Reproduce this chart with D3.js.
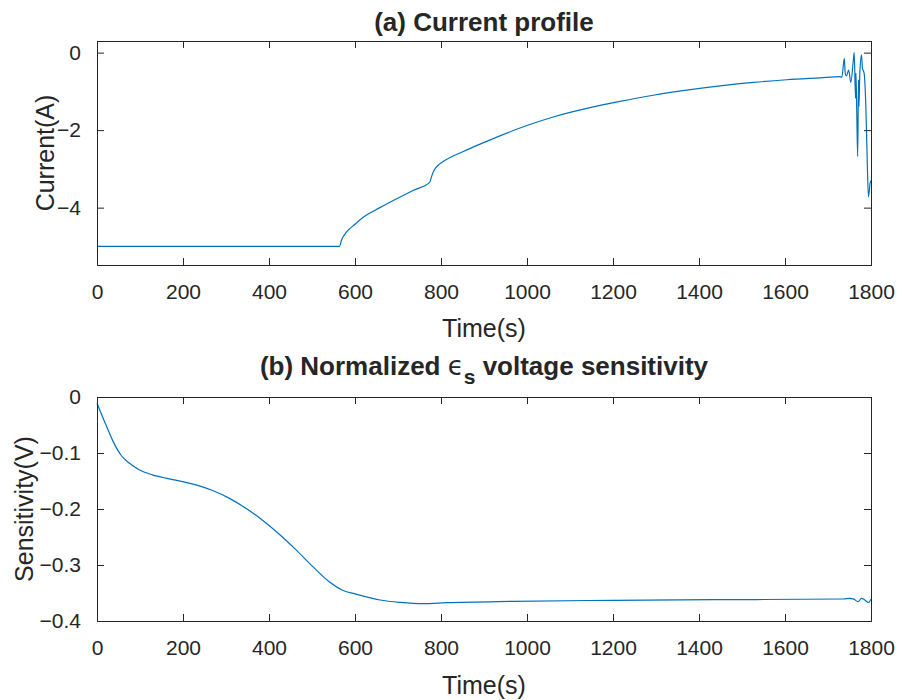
<!DOCTYPE html>
<html><head><meta charset="utf-8">
<script src="https://cdn.jsdelivr.net/npm/d3@7"></script>
<style>
body{margin:0;background:#fff;}
text{font-family:"Liberation Sans",Arial,Helvetica,sans-serif;fill:#262626;}
</style></head>
<body>
<svg id="chart" width="902" height="700"></svg>
<script>
// ---- data ----
const currentTime = [0,564,569,581,600,619,658,697,736,774,778,782,788,795,805,852,891,930,968,1000,1061,1139,1216,1294,1371,1449,1526,1604,1681,1728,1732,1738,1740,1743,1748,1753,1759,1761,1764,1765,1767,1769,1771,1772,1774,1778,1780,1784,1788,1791,1794,1798,1800];
const currentValue = [-5,-5,-4.83,-4.62,-4.43,-4.25,-4.00,-3.77,-3.55,-3.34,-3.2,-3.08,-2.97,-2.89,-2.81,-2.55,-2.36,-2.18,-2.01,-1.88,-1.66,-1.44,-1.26,-1.10,-0.97,-0.86,-0.77,-0.70,-0.65,-0.62,-0.64,-0.15,-0.53,-0.60,-0.45,-0.77,-0.19,0.0,-1.18,-0.53,-1.6,-2.68,-0.7,-1.39,-0.53,-0.06,-0.40,-0.53,-1.39,-2.68,-3.72,-3.37,-3.3];
const sensTime = [0,1.5,21,36,56,75,98,129,160,199,230,269,308,347,385,424,463,502,540,571,602,658,705,759,813,968,1201,1433,1736,1750,1760,1770,1778,1785,1794,1800];
const sensValue = [-0.011,-0.014,-0.05,-0.077,-0.104,-0.118,-0.130,-0.139,-0.145,-0.151,-0.157,-0.167,-0.181,-0.199,-0.220,-0.245,-0.273,-0.303,-0.330,-0.345,-0.352,-0.3625,-0.3667,-0.369,-0.3673,-0.3649,-0.363,-0.362,-0.3607,-0.3596,-0.361,-0.3655,-0.3596,-0.362,-0.367,-0.361];
const xTicks = [0,200,400,600,800,1000,1200,1400,1600,1800];
const currentTicks = [0,-2,-4];
const sensTicks = [0,-0.1,-0.2,-0.3,-0.4];

const svg = d3.select("#chart");
const lineColor = "#0072BD", axisColor = "#262626";
const L = 97, R = 871;
const minus = s => String(s).replace("-", "\u2212");

function panel(opts){
  const {top, bottom, ydomain, yticks, tfmt, t, v, ylabel, ylabelX, xlabelY} = opts;
  const x = d3.scaleLinear().domain([0,1800]).range([L,R]);
  const y = d3.scaleLinear().domain(ydomain).range([bottom,top]);
  const g = svg.append("g");
  const line = d3.line().x((d,i)=>x(t[i])).y(d=>y(d)).curve(d3.curveMonotoneX);
  g.append("path").datum(v).attr("d",line).attr("fill","none").attr("stroke",lineColor).attr("stroke-width",1.2);
  const tl = 7;
  const fmt = tfmt || (d=>minus(d));
  const xb = d3.axisBottom(x).tickValues(xTicks).tickSize(-tl).tickPadding(tl+12).tickFormat(d=>d);
  const xt = d3.axisTop(x).tickValues(xTicks).tickSize(-tl).tickFormat("");
  const yl = d3.axisLeft(y).tickValues(yticks).tickSize(-tl).tickPadding(tl+9).tickFormat(fmt);
  const yr = d3.axisRight(y).tickValues(yticks).tickSize(-tl).tickFormat("");
  g.append("g").attr("transform",`translate(0,${bottom})`).call(xb);
  g.append("g").attr("transform",`translate(0,${top})`).call(xt);
  g.append("g").attr("transform",`translate(${L},0)`).call(yl);
  g.append("g").attr("transform",`translate(${R},0)`).call(yr);
  g.selectAll(".domain").attr("stroke",axisColor).attr("stroke-width",1);
  g.selectAll(".tick line").attr("stroke",axisColor).attr("stroke-width",1);
  g.selectAll(".tick text").attr("font-size",21).attr("fill",axisColor).style("font-family",'"Liberation Sans",Arial,sans-serif');
  g.append("text").attr("x",(L+R)/2).attr("y",xlabelY).attr("text-anchor","middle").attr("font-size",25).text("Time(s)");
  g.append("text").attr("transform",`translate(${ylabelX},${(top+bottom)/2}) rotate(-90)`).attr("text-anchor","middle").attr("font-size",25).text(ylabel);
  return g;
}

panel({top:41,bottom:265,ydomain:[-5.48,0.3],yticks:currentTicks,t:currentTime,v:currentValue,ylabel:"Current(A)",ylabelX:54,xlabelY:337});
panel({top:397,bottom:621,ydomain:[-0.4,0],yticks:sensTicks,tfmt:d=>d===0?"0":minus(d.toFixed(1)),t:sensTime,v:sensValue,ylabel:"Sensitivity(V)",ylabelX:33,xlabelY:694});

// titles
svg.append("text").attr("x",484).attr("y",31).attr("text-anchor","middle").attr("font-size",26).attr("font-weight","bold").text("(a) Current profile");
const tb = svg.append("text").attr("x",484).attr("y",375).attr("text-anchor","middle").attr("font-size",26).attr("font-weight","bold");
tb.append("tspan").text("(b) Normalized ");
tb.append("tspan").attr("font-weight","normal").style("font-family",'"DejaVu Sans",sans-serif').text("ϵ");
tb.append("tspan").attr("dy",9).attr("font-size",21).text("s");
tb.append("tspan").attr("dy",-9).text(" voltage sensitivity");
</script>
</body></html>
